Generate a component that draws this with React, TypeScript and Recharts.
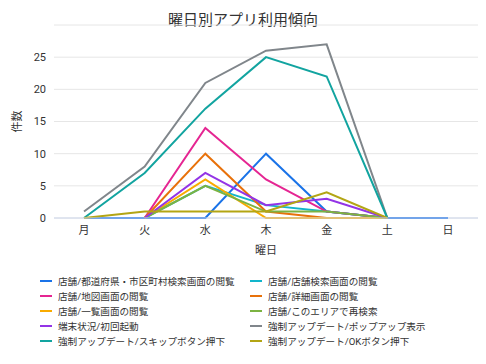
import React from "react";
import {
  LineChart,
  Line,
  XAxis,
  YAxis,
  CartesianGrid,
} from "recharts";

const days = ["月", "火", "水", "木", "金", "土", "日"];

const seriesNames = [
  "店舗/都道府県・市区町村検索画面の閲覧",
  "店舗/店舗検索画面の閲覧",
  "店舗/地図画面の閲覧",
  "店舗/詳細画面の閲覧",
  "店舗/一覧画面の閲覧",
  "店舗/このエリアで再検索",
  "端末状況/初回起動",
  "強制アップデート/ポップアップ表示",
  "強制アップデート/スキップボタン押下",
  "強制アップデート/OKボタン押下",
];

const seriesColors = [
  "#1a73e8",
  "#12b5cb",
  "#e52592",
  "#e8710a",
  "#f9ab00",
  "#7cb342",
  "#9334e6",
  "#80868b",
  "#12a4a0",
  "#b3a514",
];

// 月 火 水 木 金 土 日
const prefSearch = [0, 0, 0, 10, 1, 0, 0];
const shopSearch = [null, 0, 5, 2, 1, 0, null];
const mapView = [null, 0, 14, 6, 1, 0, null];
const detailView = [null, 0, 10, 1, 0, 0, null];
const listView = [null, 0, 6, 0, 0, 0, null];
const areaSearch = [null, 0, 5, 1, 1, 0, null];
const firstLaunch = [null, 0, 7, 2, 3, 0, null];
const popupShown = [1, 8, 21, 26, 27, 0, null];
const skipPressed = [0, 7, 17, 25, 22, 0, null];
const okPressed = [0, 1, 1, 1, 4, 0, null];

const seriesValues = [
  prefSearch,
  shopSearch,
  mapView,
  detailView,
  listView,
  areaSearch,
  firstLaunch,
  popupShown,
  skipPressed,
  okPressed,
];

const yTicks = [0, 5, 10, 15, 20, 25];

const data = days.map((day, i) => {
  const row: Record<string, string | number | null> = { day };
  seriesNames.forEach((name, s) => {
    row["s" + s] = seriesValues[s][i];
  });
  return row;
});

const FONT = "Roboto, 'Noto Sans CJK JP', sans-serif";

export default function App() {
  return (
    <div
      style={{
        position: "fixed",
        left: 0,
        top: 0,
        width: 486,
        height: 364,
        background: "#fff",
        fontFamily: FONT,
      }}
    >
      <div
        style={{
          position: "absolute",
          top: 8,
          width: 486,
          textAlign: "center",
          fontSize: 15,
          color: "#333",
        }}
      >
        曜日別アプリ利用傾向
      </div>

      <div style={{ position: "absolute", left: 0, top: 0 }}>
        <LineChart
          width={486}
          height={364}
          data={data}
          margin={{ top: 25, right: 8, left: 10, bottom: 106 }}
        >
          <CartesianGrid vertical={false} stroke="#e6e6e6" />
          <XAxis
            dataKey="day"
            height={40}
            padding={{ left: 30, right: 30 }}
            stroke="#ccd6eb"
            tickLine={false}
            tick={{ fill: "#333", fontSize: 11, fontFamily: FONT }}
            label={{
              value: "曜日",
              position: "insideBottom",
              offset: 4,
              style: { fill: "#333", fontSize: 11, fontFamily: FONT },
            }}
          />
          <YAxis
            width={44}
            domain={[0, 30]}
            ticks={yTicks}
            axisLine={false}
            tickLine={false}
            tick={{ fill: "#333", fontSize: 11, fontFamily: FONT }}
            label={{
              value: "件数",
              angle: -90,
              position: "insideLeft",
              offset: 7,
              style: { fill: "#333", fontSize: 11, fontFamily: FONT, textAnchor: "middle" },
            }}
          />
          {seriesNames.map((name, s) => (
            <Line
              key={name}
              name={name}
              dataKey={"s" + s}
              type="linear"
              stroke={seriesColors[s]}
              strokeWidth={2}
              dot={false}
              activeDot={false}
              isAnimationActive={false}
            />
          ))}
        </LineChart>
      </div>

      <div
        style={{
          position: "absolute",
          left: 40,
          top: 274,
          width: 440,
          display: "grid",
          gridTemplateColumns: "210px 210px",
          rowGap: 0,
          fontSize: 9.6,
          color: "#333",
        }}
      >
        {seriesNames.map((name, s) => (
          <div
            key={name}
            style={{ display: "flex", alignItems: "center", height: 14.8, whiteSpace: "nowrap" }}
          >
            <span
              style={{
                display: "inline-block",
                width: 12,
                height: 2,
                background: seriesColors[s],
                marginRight: 6,
              }}
            />
            {name}
          </div>
        ))}
      </div>
    </div>
  );
}
